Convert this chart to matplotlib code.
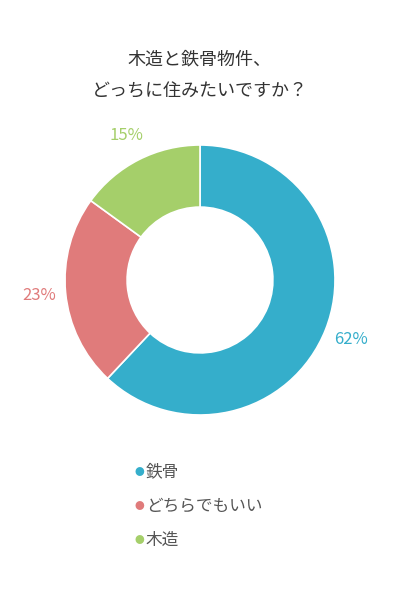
import matplotlib.pyplot as plt

plt.rcParams['font.family'] = ['Noto Sans CJK JP', 'DejaVu Sans']

labels = ['鉄骨', 'どちらでもいい', '木造']
values = [62, 23, 15]
colors = ['#35AECB', '#E07B7B', '#A5CF6A']

fig = plt.figure(figsize=(4, 6.08), dpi=100)
fig.text(0.5, 1 - 60 / 608, '木造と鉄骨物件、', ha='center', va='center', fontsize=13, color='#333333')
fig.text(0.5, 1 - 91 / 608, 'どっちに住みたいですか？', ha='center', va='center', fontsize=13, color='#333333')

ax = fig.add_axes([65 / 400, (608 - 415) / 608, 270 / 400, 270 / 608])
wedges, texts, autotexts = ax.pie(
    values, colors=colors, startangle=90, counterclock=False,
    autopct='%d%%', pctdistance=1.2,
    wedgeprops=dict(width=0.46, edgecolor='white', linewidth=1.2))
for t, c in zip(autotexts, colors):
    t.set_color(c)
    t.set_fontsize(12)
ax.set_xlim(-1, 1)
ax.set_ylim(-1, 1)
ax.set_aspect('equal')
ax.axis('off')

for i, (lab, c) in enumerate(zip(labels, colors)):
    y = 1 - (472 + i * 34) / 608
    fig.text(139 / 400, y, '●', color=c, ha='center', va='center', fontsize=7)
    fig.text(146 / 400, y, lab, color='#555555', ha='left', va='center', fontsize=12)

fig.savefig('out.png', dpi=100)
